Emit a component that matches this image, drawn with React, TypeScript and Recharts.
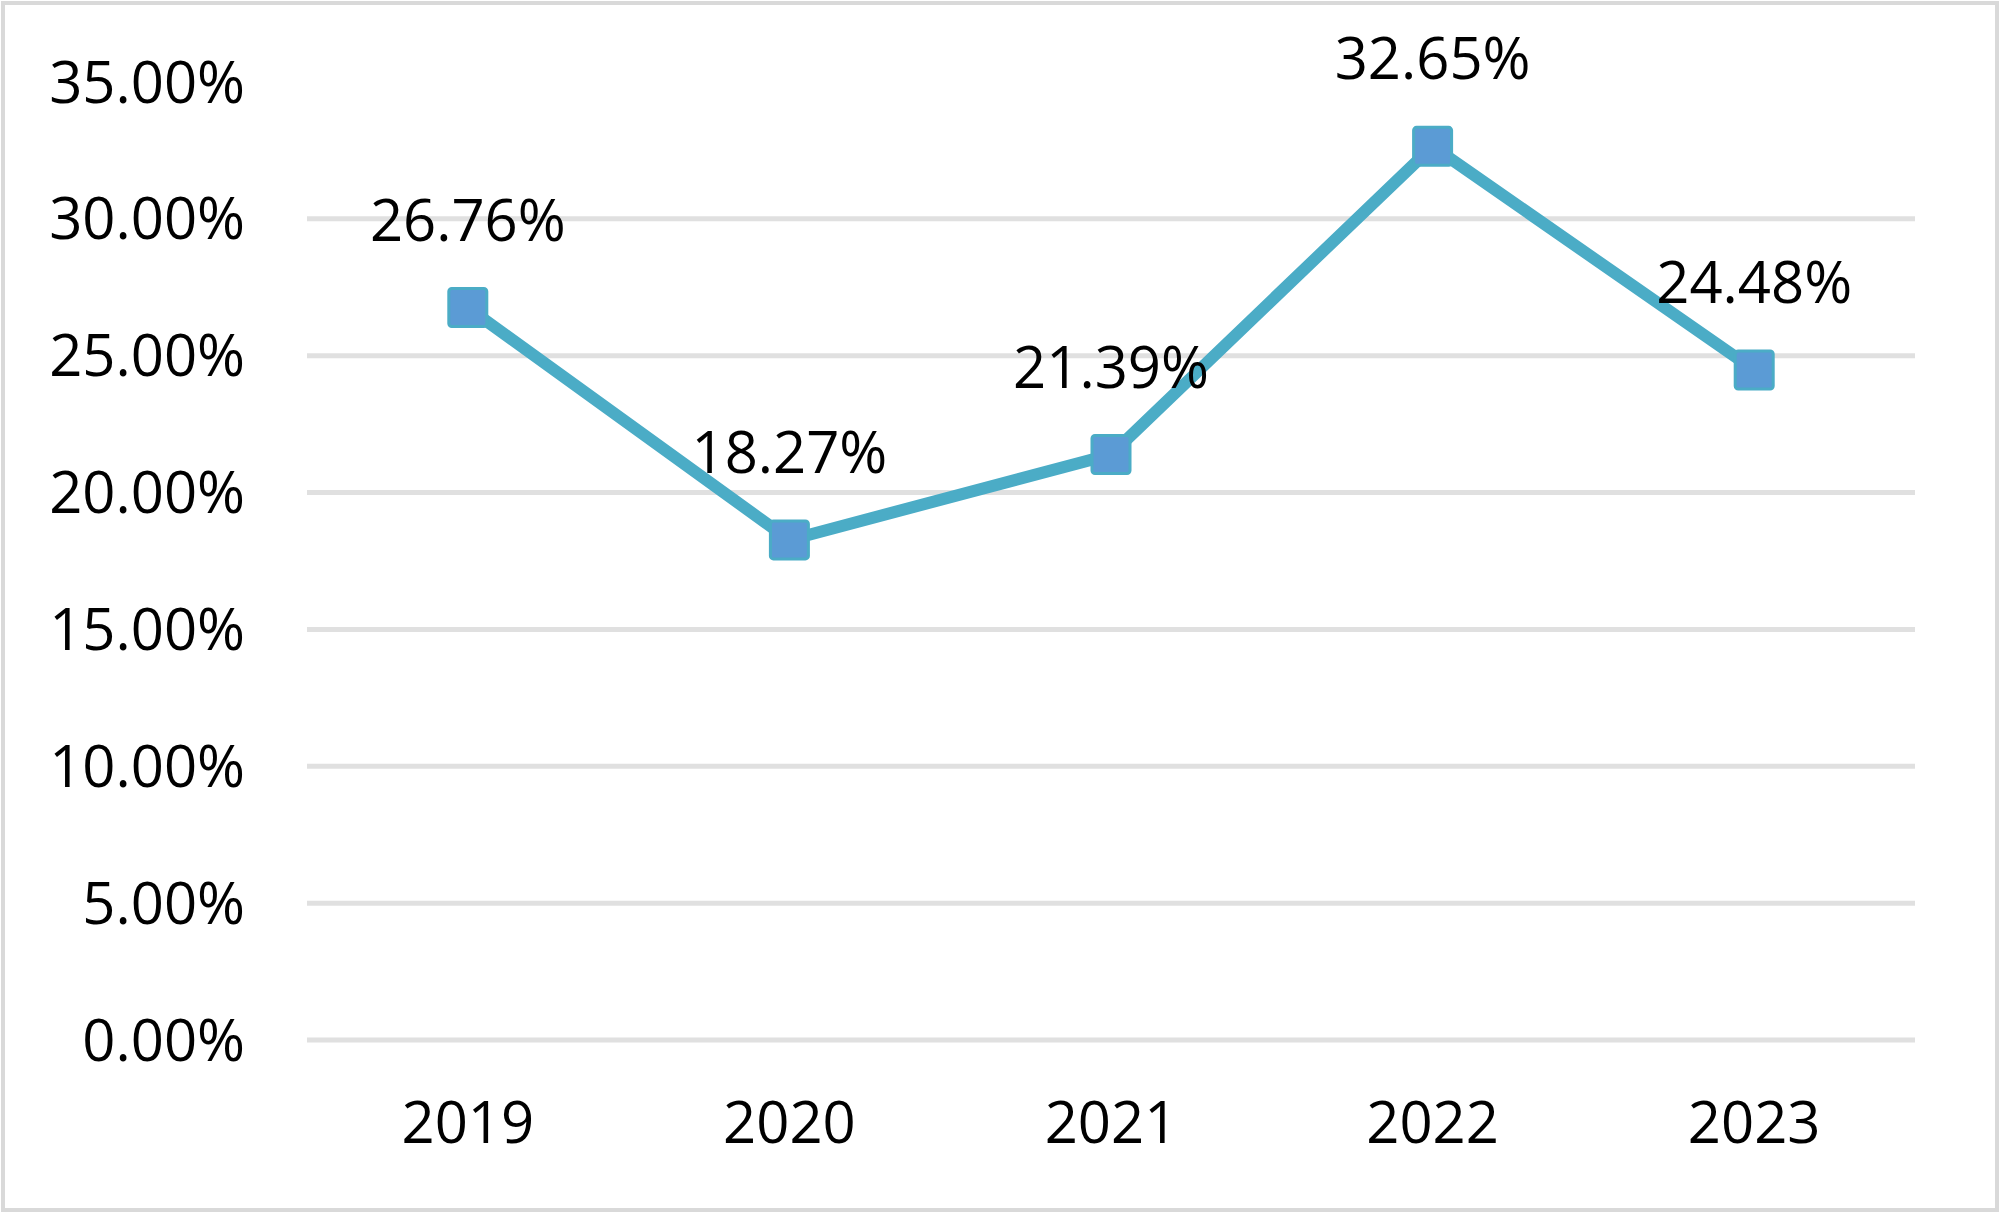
import React from 'react';
import { LineChart, Line, XAxis, YAxis, CartesianGrid, LabelList } from 'recharts';

const years = ['2019', '2020', '2021', '2022', '2023'];
const rates = [26.76, 18.27, 21.39, 32.65, 24.48];
const yTicks = [0, 5, 10, 15, 20, 25, 30, 35];
const gridValues = [0, 5, 10, 15, 20, 25, 30];

const data = years.map((y, i) => ({ year: y, rate: rates[i] }));

const FONT = '"Open Sans", "Noto Sans", sans-serif';
const fmt = (v: number) => `${v.toFixed(2)}%`;

const SquareDot = (props: any) => {
  const { cx, cy } = props;
  if (cx == null || cy == null) return null;
  return (
    <rect x={cx - 19} y={cy - 19} width={38} height={38} rx={3} ry={3}
      fill="#5b9bd5" stroke="#4bacc6" strokeWidth={3} />
  );
};

const DataLabel = (props: any) => {
  const { x, y, value } = props;
  return (
    <text x={x} y={y - 67} textAnchor="middle" fontSize={58} fontFamily={FONT} fill="#000">
      {fmt(value)}
    </text>
  );
};

export default function App() {
  return (
    <div style={{ position: 'absolute', left: 0, top: 0, width: 2000, height: 1213, background: '#fff' }}>
      <div style={{ position: 'absolute', left: 1, top: 1, width: 1998, height: 1211, boxSizing: 'border-box', border: '4px solid #d9d9d9' }} />
      <LineChart width={2000} height={1213} data={data}
        margin={{ top: 82, right: 85, bottom: 73, left: 157 }}>
        <CartesianGrid vertical={false} horizontalValues={gridValues} stroke="#e0e0e0" strokeWidth={5} />
        <XAxis dataKey="year" axisLine={false} tickLine={false} height={100}
          padding={{ left: 160.8, right: 160.8 }} tickSize={0} tickMargin={62}
          tick={{ fontSize: 58, fontFamily: FONT, fill: '#000' }} />
        <YAxis domain={[0, 35]} ticks={yTicks} axisLine={false} tickLine={false} width={150}
          tickSize={0} tickMargin={62} tickFormatter={fmt} interval={0}
          tick={{ fontSize: 58, fontFamily: FONT, fill: '#000' }} />
        <Line dataKey="rate" stroke="#4bacc6" strokeWidth={12} dot={<SquareDot />} activeDot={false}
          isAnimationActive={false}>
          <LabelList dataKey="rate" content={<DataLabel />} />
        </Line>
      </LineChart>
    </div>
  );
}
